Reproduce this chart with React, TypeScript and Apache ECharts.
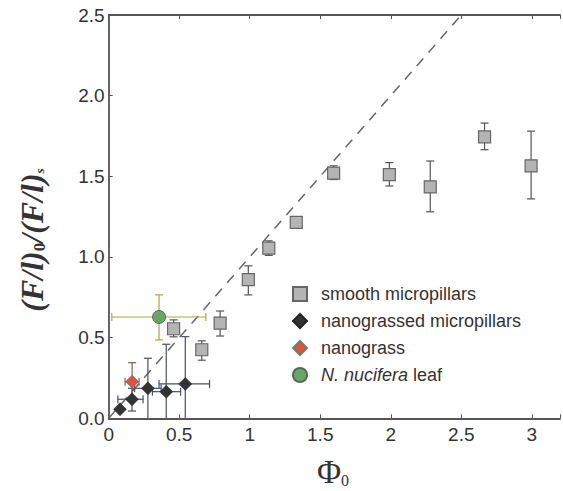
import React, { useEffect, useRef } from "react";
import * as echarts from "echarts";

// smooth micropillars
const smoothX = [0.46, 0.66, 0.79, 0.99, 1.135, 1.33, 1.595, 1.99, 2.28, 2.665, 2.995];
const smoothY = [0.555, 0.425, 0.59, 0.86, 1.055, 1.215, 1.52, 1.51, 1.435, 1.745, 1.565];
const smoothLo = [0.505, 0.36, 0.51, 0.765, 1.01, 1.185, 1.48, 1.44, 1.28, 1.665, 1.36];
const smoothHi = [0.61, 0.48, 0.665, 0.945, 1.1, 1.235, 1.565, 1.585, 1.595, 1.83, 1.78];

// nanograssed micropillars
const nanoX = [0.08, 0.165, 0.278, 0.408, 0.543];
const nanoY = [0.056, 0.118, 0.186, 0.165, 0.213];
const nanoYLo = [0.056, 0.045, 0, 0, 0];
const nanoYHi = [0.056, 0.186, 0.372, 0.459, 0.506];
const nanoXLo = [0.08, 0.065, 0.184, 0.31, 0.357];
const nanoXHi = [0.08, 0.244, 0.372, 0.51, 0.715];

// nanograss
const grassX = [0.166];
const grassY = [0.227];
const grassYLo = [0.11];
const grassYHi = [0.345];
const grassXLo = [0.116];
const grassXHi = [0.215];

// N. nucifera leaf
const leafX = [0.357];
const leafY = [0.628];
const leafYLo = [0.486];
const leafYHi = [0.765];
const leafXLo = [0.022];
const leafXHi = [0.689];

// reference line y = x
const refLine = [
  [0, 0],
  [2.5, 2.5],
];

const xTicks = ["0", "0.5", "1", "1.5", "2", "2.5", "3"];
const yTicks = ["0.0", "0.5", "1.0", "1.5", "2.0", "2.5"];

const LEGEND = ["smooth micropillars", "nanograssed micropillars", "nanograss", "N. nucifera leaf"];

function zip(...arrs: number[][]) {
  return arrs[0].map((_, i) => arrs.map((a) => a[i]));
}

function errRender(color: string, capW: number) {
  return (params: any, api: any) => {
    const x = api.value(0);
    const y = api.value(1);
    const ylo = api.value(2);
    const yhi = api.value(3);
    const xlo = api.value(4);
    const xhi = api.value(5);
    const children: any[] = [];
    const st = { stroke: color, lineWidth: 1.2 };
    const seg = (x1: number, y1: number, x2: number, y2: number) =>
      children.push({ type: "line", shape: { x1, y1, x2, y2 }, style: st });
    if (yhi > ylo) {
      const a = api.coord([x, ylo]);
      const b = api.coord([x, yhi]);
      seg(a[0], a[1], b[0], b[1]);
      if (ylo > 0) seg(a[0] - capW / 2, a[1], a[0] + capW / 2, a[1]);
      seg(b[0] - capW / 2, b[1], b[0] + capW / 2, b[1]);
    }
    if (xhi > xlo) {
      const a = api.coord([xlo, y]);
      const b = api.coord([xhi, y]);
      seg(a[0], a[1], b[0], b[1]);
      seg(a[0], a[1] - capW / 2, a[0], a[1] + capW / 2);
      seg(b[0], b[1] - capW / 2, b[0], b[1] + capW / 2);
    }
    return { type: "group", children };
  };
}

export default function App() {
  const ref = useRef<HTMLDivElement>(null);
  useEffect(() => {
    if (!ref.current) return;
    const chart = echarts.init(ref.current, undefined, { renderer: "svg" });
    const X0 = 108.7;
    const PXU = 148.6;
    const XMAX = 3.2;
    const gridW = XMAX * PXU;
    const labelColor = "#333333";
    const axisColor = "#555555";
    const tickFont = { fontFamily: "Liberation Sans", fontSize: 19, color: labelColor };

    const option: any = {
      animation: false,
      backgroundColor: "#ffffff",
      grid: { left: X0, top: 15, width: gridW, bottom: 72.7, containLabel: false },
      xAxis: [
        {
          type: "value",
          min: 0,
          max: XMAX,
          interval: 0.5,
          axisLine: { show: true, onZero: false, lineStyle: { color: axisColor, width: 1.8 } },
          axisTick: { show: true, inside: true, length: 4, lineStyle: { color: axisColor } },
          splitLine: { show: false },
          axisLabel: {
            ...tickFont,
            margin: 7,
            formatter: (v: number) => {
              const i = Math.round(v / 0.5);
              return Math.abs(v - i * 0.5) < 1e-6 && xTicks[i] !== undefined ? xTicks[i] : "";
            },
          },
        },
        {
          type: "value",
          position: "top",
          min: 0,
          max: XMAX,
          interval: 0.5,
          axisLine: { show: true, onZero: false, lineStyle: { color: axisColor, width: 1.8 } },
          axisTick: { show: true, inside: true, length: 4, lineStyle: { color: axisColor } },
          splitLine: { show: false },
          axisLabel: { show: false },
        },
      ],
      yAxis: {
        type: "value",
        min: 0,
        max: 2.5,
        interval: 0.5,
        axisLine: { show: true, onZero: false, lineStyle: { color: axisColor, width: 1.8 } },
        axisTick: { show: true, inside: true, length: 4, lineStyle: { color: axisColor } },
        splitLine: { show: false },
        axisLabel: {
          ...tickFont,
          margin: 4,
          formatter: (v: number) => {
            const i = Math.round(v / 0.5);
            return yTicks[i] ?? "";
          },
        },
      },
      legend: {
        orient: "vertical",
        left: 287,
        top: 280,
        itemWidth: 14,
        itemHeight: 14,
        itemGap: 9,
        data: LEGEND,
        textStyle: {
          fontFamily: "Liberation Sans",
          fontSize: 18,
          lineHeight: 18,
          color: labelColor,
          padding: [0, 0, 0, 9],
          rich: {
            i: { fontFamily: "Liberation Sans", fontSize: 18, fontStyle: "italic", color: labelColor },
          },
        },
        formatter: (name: string) => (name === "N. nucifera leaf" ? "{i|N. nucifera} leaf" : name),
      },
      series: [
        {
          type: "line",
          data: refLine,
          symbol: "none",
          silent: true,
          z: 1,
          lineStyle: { color: "#666", width: 1.5, type: [10, 8] },
        },
        {
          type: "custom",
          z: 2,
          renderItem: errRender("#555555", 8),
          encode: { x: 0, y: 1 },
          data: zip(smoothX, smoothY, smoothLo, smoothHi, smoothX, smoothX),
        },
        {
          type: "custom",
          z: 2,
          renderItem: errRender("#4a4f66", 8),
          encode: { x: 0, y: 1 },
          data: zip(nanoX, nanoY, nanoYLo, nanoYHi, nanoXLo, nanoXHi),
        },
        {
          type: "custom",
          z: 2,
          renderItem: errRender("#8a5a52", 8),
          encode: { x: 0, y: 1 },
          data: zip(grassX, grassY, grassYLo, grassYHi, grassXLo, grassXHi),
        },
        {
          type: "custom",
          z: 2,
          renderItem: errRender("#a8a83a", 8),
          encode: { x: 0, y: 1 },
          data: zip(leafX, leafY, leafYLo, leafYHi, leafXLo, leafXHi),
        },
        {
          name: LEGEND[0],
          type: "scatter",
          z: 3,
          symbol: "rect",
          symbolSize: 12,
          itemStyle: { color: "#b4b4b4", borderColor: "#666", borderWidth: 1.2, opacity: 1 },
          data: zip(smoothX, smoothY),
        },
        {
          name: LEGEND[1],
          type: "scatter",
          z: 4,
          symbol: "diamond",
          symbolSize: 13,
          itemStyle: { color: "#333333", borderColor: "#222", borderWidth: 0.5, opacity: 1 },
          data: zip(nanoX, nanoY),
        },
        {
          name: LEGEND[2],
          type: "scatter",
          z: 4,
          symbol: "diamond",
          symbolSize: 13,
          itemStyle: { color: "#d9553c", borderColor: "#777", borderWidth: 0.8, opacity: 1 },
          data: zip(grassX, grassY),
        },
        {
          name: LEGEND[3],
          type: "scatter",
          z: 4,
          symbol: "circle",
          symbolSize: 13,
          itemStyle: { color: "#6aa66a", borderColor: "#556b55", borderWidth: 1, opacity: 1 },
          data: zip(leafX, leafY),
        },
      ],
      graphic: [
        {
          type: "text",
          x: 333,
          y: 472,
          style: {
            text: "{a|Φ}{b|0}",
            align: "center",
            verticalAlign: "middle",
            rich: {
              a: { fontFamily: "Liberation Serif", fontSize: 33, fill: "#333", lineHeight: 34 },
              b: {
                fontFamily: "Liberation Serif",
                fontSize: 16,
                fill: "#333",
                lineHeight: 34,
                padding: [16, 0, 0, 0],
              },
            },
          },
        },
        {
          type: "text",
          x: 32,
          y: 240,
          rotation: Math.PI / 2,
          style: {
            text: "{a|(F/l)}{b|0}{a|/(F/l)}{s|s}",
            align: "center",
            verticalAlign: "middle",
            rich: {
              a: {
                fontFamily: "Liberation Serif",
                fontSize: 32,
                fontStyle: "italic",
                fontWeight: "bold",
                fill: "#333",
                lineHeight: 34,
              },
              b: {
                fontFamily: "Liberation Serif",
                fontSize: 17,
                fontWeight: "bold",
                fill: "#333",
                lineHeight: 34,
                padding: [14, 0, 0, 0],
              },
              s: {
                fontFamily: "Liberation Serif",
                fontSize: 13,
                fontStyle: "italic",
                fontWeight: "bold",
                fill: "#333",
                lineHeight: 34,
                padding: [14, 0, 0, 0],
              },
            },
          },
        },
      ],
    };
    chart.setOption(option);
    return () => chart.dispose();
  }, []);
  return (
    <div
      ref={ref}
      style={{ position: "fixed", left: 0, top: 0, width: 563, height: 491, background: "#fff" }}
    />
  );
}
